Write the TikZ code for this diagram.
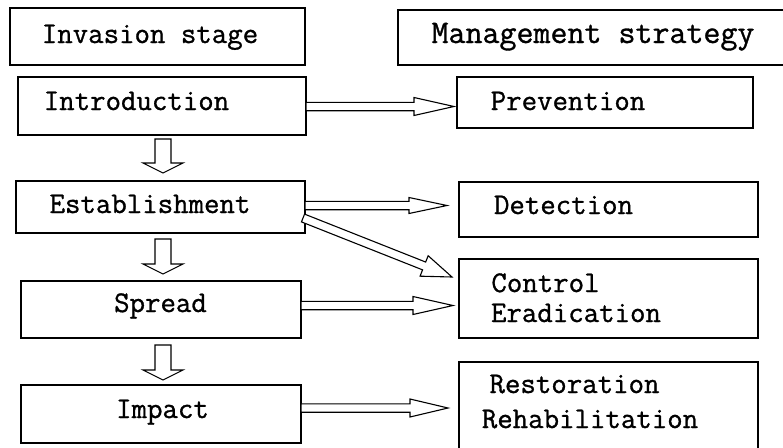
\documentclass[tikz,border=0pt]{standalone}
\usepackage{fontspec}
\newfontfamily\reffont{Latin Modern Mono}[BoldFont={Latin Modern Mono},BoldFeatures={FakeBold=1}]
\usetikzlibrary{calc}
\tikzset{
  box/.style={draw=black, line width=1.1pt, rectangle, inner sep=0pt, outer sep=0pt},
  lbl/.style={font=\fontsize{30}{30}\selectfont\reffont\bfseries, inner sep=0pt, anchor=base},
  arrline/.style={draw=black, line width=1.1pt, line join=miter, fill=white},
}
% #1 start, #2 tip, #3 shaft half width, #4 head half width, #5 head length
\newcommand\blockarr[5]{%
  \coordinate (nk) at ($(#2)!#5!(#1)$);
  \draw[arrline] ($(#1)!#3!90:(#2)$) -- ($(nk)!#3!90:(#2)$) -- ($(nk)!#4!90:(#2)$)
    -- (#2) -- ($(nk)!#4!-90:(#2)$) -- ($(nk)!#3!-90:(#2)$) -- ($(#1)!#3!-90:(#2)$) -- cycle;
}
\begin{document}
\begin{tikzpicture}[x=1pt,y=-1pt]
\useasboundingbox[fill=white] (0,0) rectangle (783,447);

% boxes
\node[box, minimum width=295pt, minimum height=57pt] (inv)   at (157.5,36.5) {};
\node[box, minimum width=396pt, minimum height=55pt] (mgmt)  at (596,37.5) {};
\node[box, minimum width=288pt, minimum height=58pt] (intro) at (162,106) {};
\node[box, minimum width=296pt, minimum height=51pt] (prev)  at (605,102.5) {};
\node[box, minimum width=289pt, minimum height=52pt] (est)   at (160.5,207) {};
\node[box, minimum width=299pt, minimum height=55pt] (det)   at (608.5,209.5) {};
\node[box, minimum width=280pt, minimum height=57pt] (spr)   at (161,309.5) {};
\node[box, minimum width=299pt, minimum height=79pt] (ctrl)  at (608.5,298.5) {};
\node[box, minimum width=280pt, minimum height=58pt] (imp)   at (161,414) {};
\node[box, minimum width=299pt, minimum height=96pt] (rest)  at (608.5,410) {};

% texts
\node[lbl] (tinv)   at (150,43)    {Invasion stage};
\node[lbl, font=\fontsize{33}{33}\selectfont\reffont\bfseries] (tmgmt) at (593,43) {Management strategy};
\node[lbl] (tintro) at (136.5,110) {Introduction};
\node[lbl] (tprev)  at (568,110)   {Prevention};
\node[lbl] (test)   at (150,213)   {Establishment};
\node[lbl] (tdet)   at (563.5,214) {Detection};
\node[lbl] (tspr)   at (160.5,312) {Spread};
\node[lbl] (tctrl)  at (545.5,292) {Control};
\node[lbl] (terad)  at (576,322)   {Eradication};
\node[lbl] (timp)   at (162.5,418) {Impact};
\node[lbl] (trest)  at (574.5,393) {Restoration};
\node[lbl] (treh)   at (590,428)   {Rehabilitation};

% down arrows
\coordinate (d1s) at ($(intro.south)+(1,4)$);
\coordinate (d1e) at ($(d1s |- est.north)+(0,-8)$);
\blockarr{d1s}{d1e}{8pt}{20pt}{10pt}
\coordinate (d2s) at ($(est.south)+(2.5,6)$);
\coordinate (d2e) at ($(d2s |- spr.north)+(0,-7)$);
\blockarr{d2s}{d2e}{8pt}{20pt}{10pt}
\coordinate (d3s) at ($(spr.south)+(2,7)$);
\coordinate (d3e) at ($(d3s |- imp.north)+(0,-5)$);
\blockarr{d3s}{d3e}{8pt}{20pt}{10pt}

% horizontal arrows
\coordinate (h1s) at ($(intro.east)+(0,0.5)$);
\coordinate (h1e) at ($(h1s -| prev.west)+(-3,0)$);
\blockarr{h1s}{h1e}{4.2pt}{9pt}{40pt}
\coordinate (h2s) at ($(est.east)+(0,-1.5)$);
\coordinate (h2e) at ($(h2s -| det.west)+(-12,0)$);
\blockarr{h2s}{h2e}{4.2pt}{8pt}{38pt}
\coordinate (h3s) at ($(est.east)+(-2,11)$);
\coordinate (h3e) at ($(ctrl.north west)+(-7,18)$);
\blockarr{h3s}{h3e}{4.2pt}{11pt}{30pt}
\coordinate (h4s) at ($(spr.east)+(0,-4)$);
\coordinate (h4e) at ($(h4s -| ctrl.west)+(-6,0)$);
\blockarr{h4s}{h4e}{4.2pt}{9pt}{40pt}
\coordinate (h5s) at ($(imp.east)+(0,-6)$);
\coordinate (h5e) at ($(h5s -| rest.west)+(-11,0)$);
\blockarr{h5s}{h5e}{4.2pt}{9pt}{38pt}
\end{tikzpicture}
\end{document}
